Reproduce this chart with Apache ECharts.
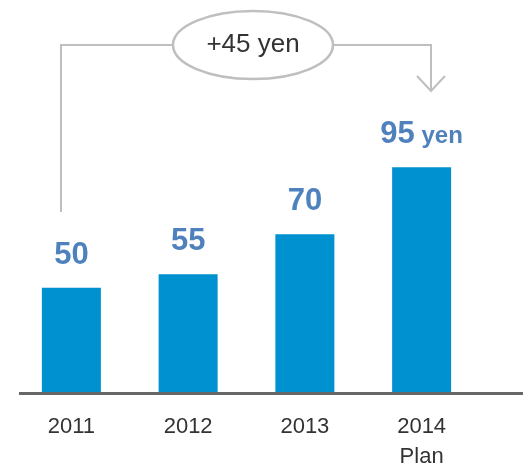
<!DOCTYPE html>
<html>
<head>
<meta charset="utf-8">
<style>
  html, body { margin: 0; padding: 0; background: #fff; }
  #chart { width: 523px; height: 463px; }
</style>
<script src="https://cdn.jsdelivr.net/npm/echarts@6/dist/echarts.min.js"></script>
</head>
<body>
<div id="chart"></div>
<script>
const categories = ['2011', '2012', '2013', '2014\nPlan'];
const values = [50, 55, 70, 95];
const valueSuffix = ['', '', '', ' yen'];
const changeText = '+45 yen';

const chart = echarts.init(document.getElementById('chart'), null, { renderer: 'canvas' });

const lineColor = '#bfbfbf';
const option = {
  animation: false,
  backgroundColor: '#ffffff',
  grid: { left: 13, right: 43, top: 154, bottom: 71, containLabel: false, outerBoundsMode: 'none' },
  xAxis: {
    type: 'category',
    data: categories,
    axisLine: { show: false },
    axisTick: { show: false },
    axisLabel: {
      color: '#333333',
      fontFamily: 'Liberation Sans, Arial, sans-serif',
      fontSize: 22,
      lineHeight: 30,
      margin: 20
    }
  },
  yAxis: {
    type: 'value',
    min: 11,
    max: 100,
    show: false,
    splitLine: { show: false }
  },
  series: [{
    type: 'bar',
    data: values,
    barWidth: 59,
    itemStyle: { color: '#0091d1' },
    label: {
      show: true,
      position: 'top',
      distance: 17,
      formatter: function (p) {
        const s = valueSuffix[p.dataIndex];
        return s ? '{v|' + p.value + '}{s|' + s + '}' : '{v|' + p.value + '}';
      },
      rich: {
        v: { fontSize: 31, fontWeight: 'bold', color: '#4f81bd', fontFamily: 'Liberation Sans, Arial, sans-serif' },
        s: { fontSize: 24, fontWeight: 'bold', color: '#4f81bd', fontFamily: 'Liberation Sans, Arial, sans-serif', padding: [4, 0, 0, 0] }
      }
    }
  }],
  graphic: [
    { type: 'line', shape: { x1: 19, y1: 393.5, x2: 523, y2: 393.5 }, style: { stroke: '#666666', lineWidth: 3 }, z: 10 },
    { type: 'polyline', shape: { points: [[61, 212], [61, 45], [173, 45]] }, style: { stroke: lineColor, lineWidth: 2, fill: null } },
    { type: 'polyline', shape: { points: [[333, 45], [431, 45], [431, 91]] }, style: { stroke: lineColor, lineWidth: 2, fill: null } },
    { type: 'polyline', shape: { points: [[417, 76], [431, 91], [445, 76]] }, style: { stroke: lineColor, lineWidth: 2, fill: null } },
    { type: 'ellipse', shape: { cx: 253, cy: 45, rx: 80, ry: 34 }, style: { stroke: lineColor, lineWidth: 2.5, fill: '#ffffff' } },
    { type: 'text', x: 253, y: 45, style: { text: changeText, fill: '#333333', font: '26px "Liberation Sans", Arial, sans-serif', textAlign: 'center', textVerticalAlign: 'middle' }, z: 20 }
  ]
};
chart.setOption(option);
</script>
</body>
</html>
